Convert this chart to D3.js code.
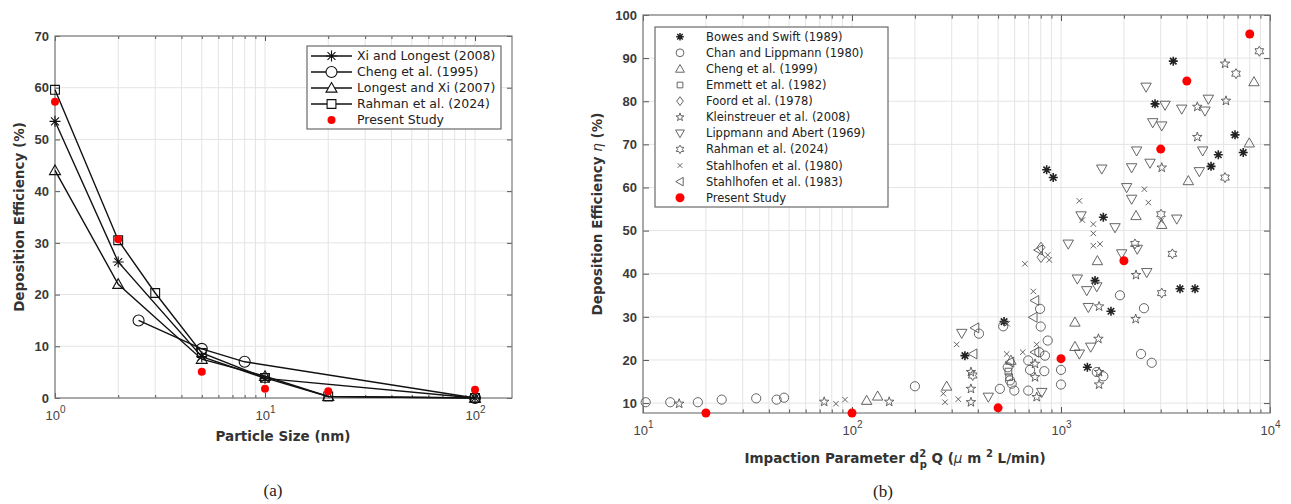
<!DOCTYPE html>
<html>
<head>
<meta charset="utf-8">
<script src="https://cdn.jsdelivr.net/npm/d3@7"></script>
<style>
  body { margin: 0; background: #fff; }
  svg { display: block; font-family: "DejaVu Sans", sans-serif; }
</style>
</head>
<body>
<svg id="fig" width="1291" height="504"></svg>
<script>
// ---- panel (a): deposition efficiency vs particle size (nm)
const xiSize = [1, 2, 5, 10, 100];
const xiEff = [53.5, 26.3, 8.0, 3.8, 0];
const chengSize = [2.5, 5, 8, 100];
const chengEff = [15, 9.5, 7, 0];
const longestSize = [1, 2, 5, 10, 20, 100];
const longestEff = [44, 22, 7.5, 4.2, 0.3, 0];
const rahmanSize = [1, 2, 3, 5, 10, 20, 100];
const rahmanEff = [59.6, 30.5, 20.3, 8.7, 3.9, 0.3, 0];
const presentSizeA = [1, 2, 5, 10, 20, 100];
const presentEffA = [57.3, 30.7, 5.1, 1.8, 1.3, 1.6];
const yTicksA = [0, 10, 20, 30, 40, 50, 60, 70];
const xTicksA = [1, 10, 100];

// ---- panel (b): efficiency vs impaction parameter, [x, eta]
const bowes = [[854,64.1],[918,62.3],[347,21.0],[534,28.9],[1337,18.3],[1455,38.4],[1734,31.3],[3711,36.5],[4378,36.5],[1594,53.1],[2818,79.4],[3445,89.3],[5222,64.9],[5658,67.6],[6802,72.2],[7447,68.1]];
const chan = [[10.3,10.2],[13.5,10.2],[18.3,10.2],[23.8,10.8],[34.8,11.1],[43.6,10.8],[47.3,11.25],[200,13.9],[405,26.1],[510,13.3],[598,12.9],[556,18.3],[570,15.25],[581,14.5],[529,27.8],[794,31.85],[800,27.75],[864,24.5],[838,21.0],[832,17.4],[697,19.9],[711,17.7],[697,12.9],[1000,17.7],[1000,14.3],[1483,17.2],[1594,16.2],[1915,35.0],[2495,32.0],[2414,21.4],[2717,19.35],[787,21.8]];
const cheng99 = [[117.5,10.6],[132.7,11.6],[283.8,13.9],[576,19.9],[1166,28.75],[1166,23.1],[1493,43.0],[2285,53.45],[3034,51.4],[4066,61.55],[8380,84.5],[7960,70.3]];
const emmett = [[560,17.3],[565,16.0]];
const foord = [[802,46.1],[802,43.8]];
const kleinstreuer = [[14.9,9.86],[73.6,10.3],[150.7,10.3],[370.8,10.2],[370.8,13.3],[370.8,17.2],[751,19.1],[751,16.0],[765,11.4],[1510,24.9],[1521,32.4],[1521,14.3],[1521,17.2],[2276,29.5],[2285,39.7],[3034,64.6],[4490,78.7],[6157,80.1],[4490,71.7],[6094,88.7]];
const lippmann = [[335,26.2],[449,11.4],[809,12.5],[1083,46.9],[1197,38.8],[1224,21.4],[1328,36.1],[1351,32.2],[1387,23.0],[1483,37.0],[1813,50.7],[1951,44.65],[2317,45.7],[2572,40.3],[1567,64.3],[1247,53.45],[2061,60.0],[2178,57.3],[2178,64.6],[2301,68.5],[2553,83.3],[2667,65.65],[2748,75.05],[3034,74.3],[3147,79.1],[3579,52.7],[3781,78.2],[4590,63.7],[4764,68.5],[4887,77.75],[5070,80.5]];
const rahmanB = [[2259,46.9],[3410,44.6],[3034,35.5],[6875,86.4],[8892,91.6],[6094,62.3],[3009,53.8],[378,16.4]];
const stahl80 = [[83.8,9.86],[92.6,10.8],[278.6,10.2],[322.6,10.9],[316.8,23.6],[553,28.4],[550,21.4],[656,21.8],[672,42.3],[737,35.9],[765,23.6],[864,44.35],[879,43.2],[1224,56.9],[1265,52.45],[1428,51.5],[1428,49.35],[1428,46.5],[1538,46.9],[2506,59.6],[2618,56.5],[3009,52.3],[273.5,12.2]];
const stahl83 = [[380,21.4],[388,27.45],[751,33.8],[737,29.9],[782,45.5],[751,21.8],[570,19.5]];
const presentB = [[20,7.7],[100,7.7],[500,8.9],[1000,20.3],[2000,43.0],[3000,68.9],[4000,84.7],[8000,95.6]];
const yTicksB = [10, 20, 30, 40, 50, 60, 70, 80, 90, 100];
const xTicksB = [10, 100, 1000, 10000];

const svg = d3.select('#fig');

const xA = d3.scaleLog().domain([1, 150]).range([55, 512]);
const yA = d3.scaleLinear().domain([0, 70]).range([398, 36]);
const xB = d3.scaleLog().domain([10, 10000]).range([643, 1270]);
const yB = d3.scaleLinear().domain([7.7, 100]).range([413, 15]);

// marker shapes centred on 0,0
function markerPath(type, r) {
  const pts = (n, rOut, rIn, rot) => {
    const p = [];
    for (let i = 0; i < n * 2; i++) {
      const rr = i % 2 ? rIn : rOut;
      const a = rot + i * Math.PI / n;
      p.push([rr * Math.cos(a), rr * Math.sin(a)]);
    }
    return 'M' + p.map(q => q.join(',')).join('L') + 'Z';
  };
  const a = r * 0.72;
  switch (type) {
    case 'ast': return `M${-r},0H${r}M0,${-r}V${r}M${-a},${-a}L${a},${a}M${-a},${a}L${a},${-a}`;
    case 'circle': return `M${r},0A${r},${r} 0 1,1 ${-r},0A${r},${r} 0 1,1 ${r},0Z`;
    case 'tri': return `M0,${-r}L${r},${r * 0.75}L${-r},${r * 0.75}Z`;
    case 'triDown': return `M0,${r}L${r},${-r * 0.75}L${-r},${-r * 0.75}Z`;
    case 'triLeft': return `M${-r},0L${r * 0.75},${-r}L${r * 0.75},${r}Z`;
    case 'square': { const s = r * 0.8; return `M${-s},${-s}H${s}V${s}H${-s}Z`; }
    case 'diamond': return `M0,${-r}L${r * 0.75},0L0,${r}L${-r * 0.75},0Z`;
    case 'penta': return pts(5, r, r * 0.4, -Math.PI / 2);
    case 'hexa': return pts(6, r, r * 0.58, -Math.PI / 2);
    case 'x': return `M${-a},${-a}L${a},${a}M${-a},${a}L${a},${-a}`;
  }
}

function logMinors(x) {
  const [lo, hi] = x.domain();
  const out = [];
  for (let e = Math.floor(Math.log10(lo)); e <= Math.ceil(Math.log10(hi)); e++)
    for (let m = 2; m <= 9; m++) {
      const v = m * Math.pow(10, e);
      if (v > lo && v < hi) out.push(v);
    }
  return out;
}

function frame(x, y, xMajor, yTicks, tickLen) {
  const [xl, xr] = x.range();
  const [yb, yt] = y.range();
  const minors = logMinors(x);
  const g = svg.append('g');

  // grid
  g.append('g').selectAll('line').data(minors.concat(xMajor)).join('line')
    .attr('x1', d => x(d)).attr('x2', d => x(d)).attr('y1', yb).attr('y2', yt)
    .attr('stroke', '#e4e4e4').attr('stroke-width', 1);
  g.append('g').selectAll('line').data(yTicks).join('line')
    .attr('x1', xl).attr('x2', xr).attr('y1', d => y(d)).attr('y2', d => y(d))
    .attr('stroke', '#e4e4e4').attr('stroke-width', 1);

  const style = sel => {
    sel.select('.domain').remove();
    sel.selectAll('.tick line').attr('stroke', '#555');
  };

  // bottom + top ticks (major and minor)
  const bottom = g.append('g').attr('transform', `translate(0,${yb})`)
    .call(d3.axisBottom(x).tickValues(xMajor).tickSize(-tickLen).tickPadding(8))
    .call(style);
  g.append('g').attr('transform', `translate(0,${yb})`)
    .call(d3.axisBottom(x).tickValues(minors).tickSize(-tickLen * 0.6).tickFormat(''))
    .call(style);
  g.append('g').attr('transform', `translate(0,${yt})`)
    .call(d3.axisTop(x).tickValues(xMajor).tickSize(-tickLen).tickFormat(''))
    .call(style);
  g.append('g').attr('transform', `translate(0,${yt})`)
    .call(d3.axisTop(x).tickValues(minors).tickSize(-tickLen * 0.6).tickFormat(''))
    .call(style);

  bottom.selectAll('.tick text').each(function (d) {
    const t = d3.select(this).text(null)
      .attr('y', 22).attr('dy', 0)
      .attr('font-size', 13).attr('fill', '#444');
    t.append('tspan').text('10');
    t.append('tspan').attr('dy', -7).attr('font-size', 10).text(Math.round(Math.log10(d)));
  });

  // left + right ticks
  g.append('g').attr('transform', `translate(${xl},0)`)
    .call(d3.axisLeft(y).tickValues(yTicks).tickSize(-tickLen).tickPadding(6))
    .call(style)
    .selectAll('.tick text').attr('font-size', 13).attr('font-weight', 'bold').attr('fill', '#3a3a3a');
  g.append('g').attr('transform', `translate(${xr},0)`)
    .call(d3.axisRight(y).tickValues(yTicks).tickSize(-tickLen).tickFormat(''))
    .call(style);

  // box
  g.append('rect').attr('x', xl).attr('y', yt).attr('width', xr - xl).attr('height', yb - yt)
    .attr('fill', 'none').attr('stroke', '#7a7a7a').attr('stroke-width', 1.2);
  return g;
}

// ================= panel (a)
frame(xA, yA, xTicksA, yTicksA, 5);

const lineA = d3.line().x(d => xA(d[0])).y(d => yA(d[1]));
const seriesA = [
  { label: 'Xi and Longest (2008)', type: 'ast', pts: d3.zip(xiSize, xiEff) },
  { label: 'Cheng et al. (1995)', type: 'circle', pts: d3.zip(chengSize, chengEff) },
  { label: 'Longest and Xi (2007)', type: 'tri', pts: d3.zip(longestSize, longestEff) },
  { label: 'Rahman et al. (2024)', type: 'square', pts: d3.zip(rahmanSize, rahmanEff) }
];
const gA = svg.append('g');
seriesA.forEach(s => {
  gA.append('path').attr('d', lineA(s.pts)).attr('fill', 'none')
    .attr('stroke', '#111').attr('stroke-width', 1.4);
  gA.append('g').selectAll('path').data(s.pts).join('path')
    .attr('transform', d => `translate(${xA(d[0])},${yA(d[1])})`)
    .attr('d', markerPath(s.type, 5.5))
    .attr('fill', 'none')
    .attr('stroke', '#111').attr('stroke-width', 1.1);
});
gA.append('g').selectAll('circle').data(d3.zip(presentSizeA, presentEffA)).join('circle')
  .attr('cx', d => xA(d[0])).attr('cy', d => yA(d[1])).attr('r', 4).attr('fill', '#ff0000');

// legend (a)
const legA = svg.append('g');
legA.append('rect').attr('x', 307).attr('y', 46).attr('width', 194).attr('height', 83)
  .attr('fill', '#fff').attr('stroke', '#6a6a6a').attr('stroke-width', 1.2);
seriesA.concat([{ label: 'Present Study', type: 'dot' }]).forEach((s, i) => {
  const yy = 56 + 16 * i;
  if (s.type === 'dot') {
    legA.append('circle').attr('cx', 331.5).attr('cy', yy).attr('r', 4).attr('fill', '#ff0000');
  } else {
    legA.append('line').attr('x1', 311).attr('x2', 352).attr('y1', yy).attr('y2', yy)
      .attr('stroke', '#111').attr('stroke-width', 1.4);
    legA.append('path').attr('transform', `translate(331.5,${yy})`)
      .attr('d', markerPath(s.type, 5.5)).attr('fill', '#fff')
      .attr('stroke', '#111').attr('stroke-width', 1.1);
  }
  legA.append('text').attr('x', 357).attr('y', yy).attr('dy', '0.35em')
    .attr('font-size', 12.5).attr('fill', '#222').text(s.label);
});

svg.append('text').attr('x', 283).attr('y', 441).attr('text-anchor', 'middle')
  .attr('font-size', 13.5).attr('font-weight', 'bold').attr('fill', '#333')
  .text('Particle Size (nm)');
svg.append('text').attr('transform', 'translate(24,217) rotate(-90)').attr('text-anchor', 'middle')
  .attr('font-size', 13.5).attr('font-weight', 'bold').attr('fill', '#333')
  .text('Deposition Efficiency (%)');
svg.append('text').attr('x', 273).attr('y', 496).attr('text-anchor', 'middle')
  .attr('font-family', '"Liberation Serif", serif').attr('font-size', 17).attr('fill', '#222')
  .text('(a)');

// ================= panel (b)
frame(xB, yB, xTicksB, yTicksB, 6);

const seriesB = [
  { label: 'Bowes and Swift (1989)', type: 'ast', pts: bowes },
  { label: 'Chan and Lippmann (1980)', type: 'circle', pts: chan },
  { label: 'Cheng et al. (1999)', type: 'tri', pts: cheng99 },
  { label: 'Emmett et al. (1982)', type: 'square', pts: emmett },
  { label: 'Foord et al. (1978)', type: 'diamond', pts: foord },
  { label: 'Kleinstreuer et al. (2008)', type: 'penta', pts: kleinstreuer },
  { label: 'Lippmann and Abert (1969)', type: 'triDown', pts: lippmann },
  { label: 'Rahman et al. (2024)', type: 'hexa', pts: rahmanB },
  { label: 'Stahlhofen et al. (1980)', type: 'x', pts: stahl80 },
  { label: 'Stahlhofen et al. (1983)', type: 'triLeft', pts: stahl83 }
];
const sizeB = { ast: 4.5, circle: 4.6, tri: 5.2, square: 4.2, diamond: 5.2, penta: 5, triDown: 5.2, hexa: 5, x: 3.8, triLeft: 5 };
const gB = svg.append('g');
seriesB.forEach(s => {
  gB.append('g').selectAll('path').data(s.pts).join('path')
    .attr('transform', d => `translate(${xB(d[0])},${yB(d[1])})`)
    .attr('d', markerPath(s.type, sizeB[s.type]))
    .attr('fill', 'none')
    .attr('stroke', s.type === 'ast' ? '#222' : '#555')
    .attr('stroke-width', s.type === 'ast' ? 1.6 : 0.9);
});
gB.append('g').selectAll('circle').data(presentB).join('circle')
  .attr('cx', d => xB(d[0])).attr('cy', d => yB(d[1])).attr('r', 4.5).attr('fill', '#ff0000');

// legend (b)
const legB = svg.append('g');
legB.append('rect').attr('x', 655).attr('y', 27).attr('width', 233).attr('height', 180)
  .attr('fill', '#fff').attr('stroke', '#6a6a6a').attr('stroke-width', 1.2);
seriesB.concat([{ label: 'Present Study', type: 'dot' }]).forEach((s, i) => {
  const yy = 36.7 + 16.1 * i;
  if (s.type === 'dot') {
    legB.append('circle').attr('cx', 680).attr('cy', yy).attr('r', 4.5).attr('fill', '#ff0000');
  } else {
    legB.append('path').attr('transform', `translate(680,${yy})`)
      .attr('d', markerPath(s.type, sizeB[s.type] * 0.85)).attr('fill', 'none')
      .attr('stroke', s.type === 'ast' ? '#222' : '#555')
      .attr('stroke-width', s.type === 'ast' ? 1.5 : 0.9);
  }
  legB.append('text').attr('x', 706).attr('y', yy).attr('dy', '0.35em')
    .attr('font-size', 11.5).attr('fill', '#222').text(s.label);
});

const xl = svg.append('text').attr('x', 895).attr('y', 463).attr('text-anchor', 'middle')
  .attr('font-size', 13.5).attr('font-weight', 'bold').attr('fill', '#333');
xl.append('tspan').text('Impaction Parameter d');
xl.append('tspan').attr('dy', -6).attr('font-size', 10).text('2');
xl.append('tspan').attr('dx', -6.5).attr('dy', 11).attr('font-size', 10).text('p');
xl.append('tspan').attr('dy', -5).text(' Q (');
xl.append('tspan').attr('font-style', 'italic').attr('font-weight', 'normal').text('\u03bc');
xl.append('tspan').text(' m ');
xl.append('tspan').attr('dy', -6).attr('font-size', 10).text('2');
xl.append('tspan').attr('dy', 6).text(' L/min)');

const yl = svg.append('text').attr('transform', 'translate(602,214) rotate(-90)').attr('text-anchor', 'middle')
  .attr('font-size', 13.5).attr('font-weight', 'bold').attr('fill', '#333');
yl.append('tspan').text('Deposition Efficiency ');
yl.append('tspan').attr('font-style', 'italic').attr('font-weight', 'normal').text('\u03b7');
yl.append('tspan').text(' (%)');

svg.append('text').attr('x', 883).attr('y', 497).attr('text-anchor', 'middle')
  .attr('font-family', '"Liberation Serif", serif').attr('font-size', 17).attr('fill', '#222')
  .text('(b)');
</script>
</body>
</html>
